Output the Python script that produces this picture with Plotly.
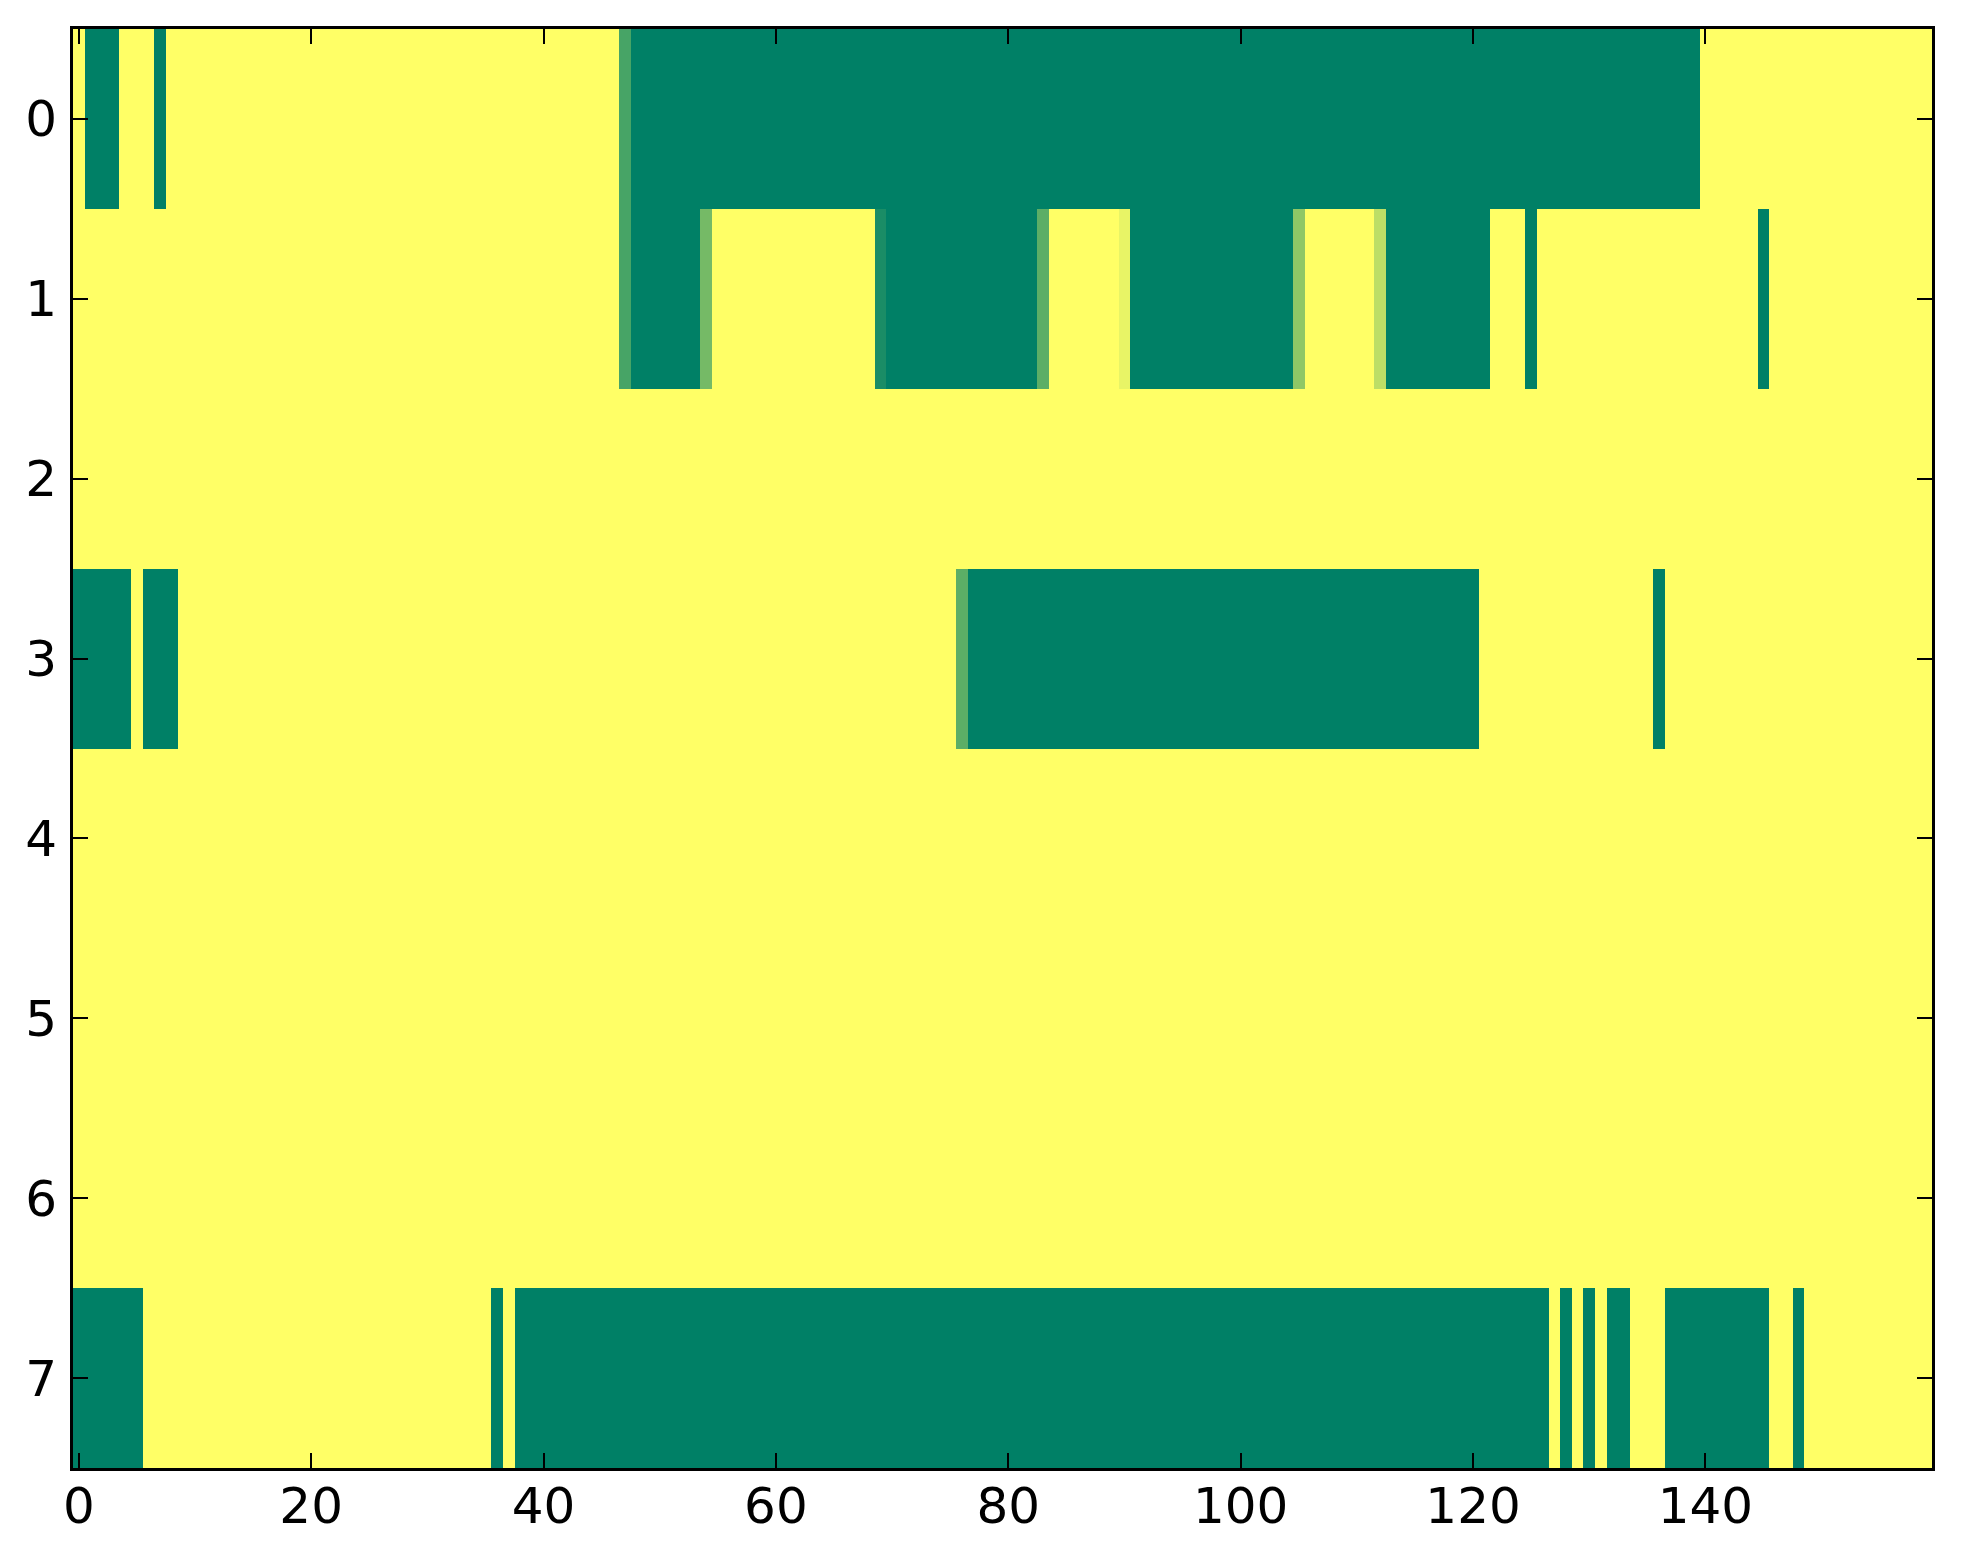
import plotly.graph_objects as go

# Run-length encoded rows: (value, count); 160 columns per row
row0 = [(1, 1), (0, 3), (1, 3), (0, 1), (1, 39), (0.28, 1), (0, 92), (1, 20)]
row1 = [(1, 47), (0.28, 1), (0, 6), (0.46, 1), (1, 14), (0.1, 1), (0, 13), (0.36, 1),
        (1, 6), (0.91, 1), (0, 14), (0.56, 1), (1, 6), (0.74, 1), (0, 9), (1, 3),
        (0, 1), (1, 19), (0, 1), (1, 14)]
row2 = [(1, 160)]
row3 = [(0, 5), (1, 1), (0, 3), (1, 67), (0.36, 1), (0, 44), (1, 15), (0, 1), (1, 23)]
row4 = [(1, 160)]
row5 = [(1, 160)]
row6 = [(1, 160)]
row7 = [(0, 6), (1, 30), (0, 1), (1, 1), (0, 89), (1, 1), (0, 1), (1, 1), (0, 1),
        (1, 1), (0, 2), (1, 3), (0, 9), (1, 2), (0, 1), (1, 11)]

rows = [row0, row1, row2, row3, row4, row5, row6, row7]
x_ticks = [0, 20, 40, 60, 80, 100, 120, 140]
y_ticks = [0, 1, 2, 3, 4, 5, 6, 7]


def expand(runs):
    out = []
    for v, n in runs:
        out.extend([v] * n)
    return out


z = [expand(r) for r in rows]
ncols = len(z[0])

fig = go.Figure(go.Heatmap(
    z=z,
    x=list(range(ncols)),
    y=list(range(len(z))),
    colorscale=[[0, "rgb(0,128,102)"], [1, "rgb(255,255,102)"]],
    zmin=0, zmax=1,
    showscale=False,
    hoverinfo="skip",
))

axis_common = dict(
    showline=True, linecolor="black", linewidth=3, mirror="allticks",
    ticks="inside", ticklen=15, tickwidth=2, tickcolor="black",
    showgrid=False, zeroline=False, automargin=False,
    tickfont=dict(family="DejaVu Sans", size=50, color="black"),
)

fig.update_xaxes(range=[-0.5, ncols - 0.5], tickvals=x_ticks,
                 ticklabelstandoff=-8, **axis_common)
fig.update_yaxes(range=[len(z) - 0.5, -0.5], tickvals=y_ticks,
                 ticklabelstandoff=3, **axis_common)

fig.update_layout(
    width=1963, height=1564,
    margin=dict(l=73, r=31, t=29, b=96),
    paper_bgcolor="white", plot_bgcolor="white",
)

fig.write_html("out.html",
               config={"displayModeBar": False, "staticPlot": True},
               post_script="document.body.style.margin='0';document.body.style.overflow='hidden';")
